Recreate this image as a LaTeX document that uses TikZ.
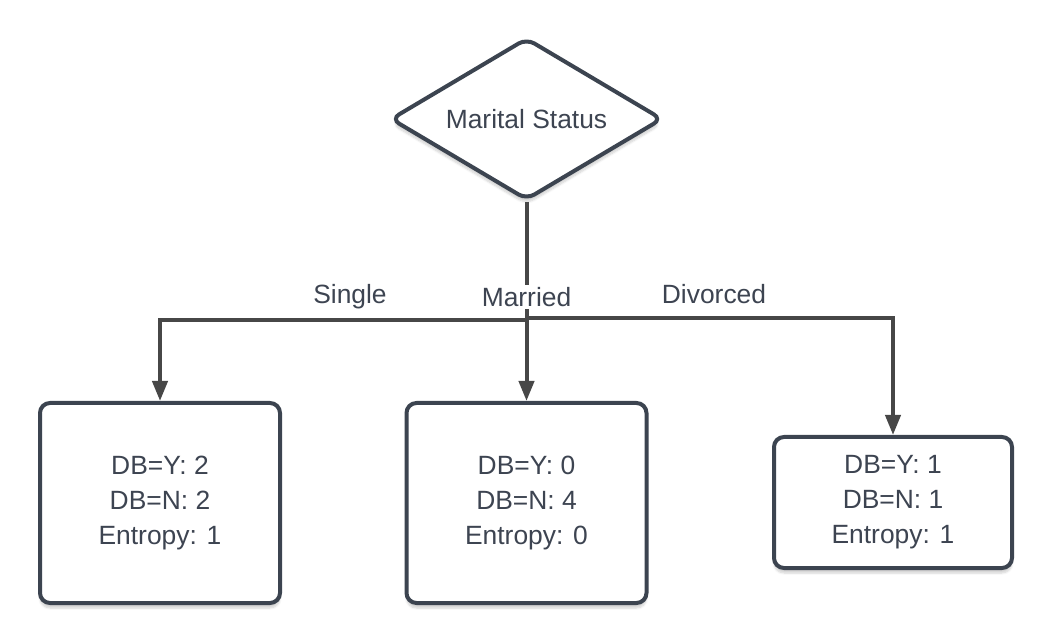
\documentclass[tikz,border=0pt]{standalone}
\usepackage{fontspec}
\setmainfont{Liberation Sans}
\usetikzlibrary{shapes.geometric,arrows.meta,shadows.blur}
\definecolor{bordercol}{HTML}{3C4450}
\definecolor{linecol}{HTML}{474747}
\definecolor{textcol}{HTML}{3D4451}
\begin{document}
\begin{tikzpicture}[x=1pt,y=-1pt,
  txt/.style={font=\fontsize{26.4}{35}\selectfont, text=textcol},
  leaf/.style={txt, draw=bordercol, line width=4pt, rounded corners=10pt, fill=white,
    align=center, inner sep=0pt, blur shadow={shadow xshift=0pt, shadow yshift=-5pt, shadow blur steps=6, shadow opacity=18}},
  decision/.style={txt, shape=diamond, draw=bordercol, line width=4pt, rounded corners=9pt, fill=white,
    inner sep=0pt, minimum width=272pt, minimum height=162pt, aspect=1.68,
    blur shadow={shadow xshift=0pt, shadow yshift=-5pt, shadow blur steps=6, shadow opacity=18}},
  conn/.style={draw=linecol, line width=4pt},
  arr/.style={conn, -{Triangle[length=20pt,width=15pt]}},
  lbl/.style={txt, fill=white, inner sep=2pt}
]
\useasboundingbox (0,0) rectangle (1053,644);

\node[decision] (root) at (526.5,119) {Marital Status};

\node[leaf, minimum width=240pt, minimum height=200pt] (single) at (160,503) {DB=Y: 2\\DB=N: 2\\Entropy: 1};
\node[leaf, minimum width=240pt, minimum height=200pt] (married) at (526.5,503) {DB=Y: 0\\DB=N: 4\\Entropy: 0};
\node[leaf, minimum width=238pt, minimum height=131pt] (divorced) at (893,502.5) {DB=Y: 1\\DB=N: 1\\Entropy: 1};

\coordinate (J) at (526.5,320);
\coordinate (JR) at (526.5,318);
\draw[conn] (root.south) -- (J);
\draw[arr] (J) -| (single.north);
\draw[arr] (J) -- (married.north);
\draw[arr] (JR) -| (divorced.north);

\node[lbl] (lmarried) at (526.5,297) {Married};
\node[txt] (lsingle) at (350,297) {Single};
\node[txt] (ldivorced) at (714,294) {Divorced};
\end{tikzpicture}
\end{document}
